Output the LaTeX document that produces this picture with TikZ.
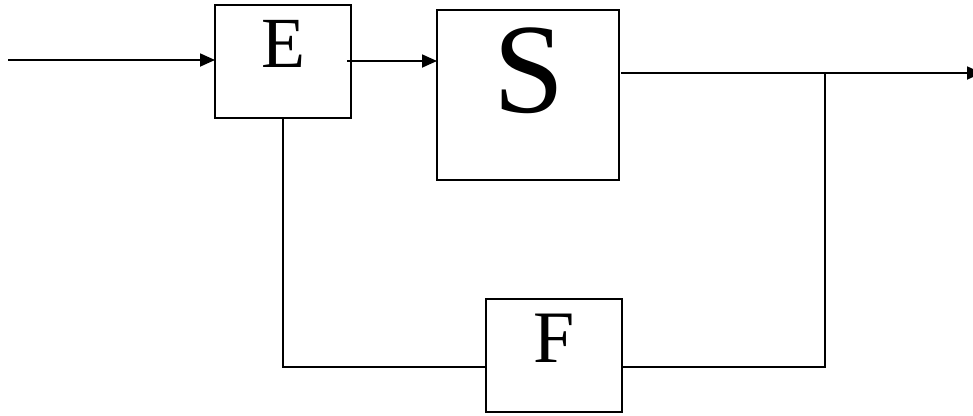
\documentclass[tikz,border=0pt]{standalone}
\usepackage{fontspec}
\setmainfont{Liberation Serif}
\usetikzlibrary{arrows.meta}
\begin{document}
\begin{tikzpicture}[x=1pt,y=-1pt,
  block/.style={draw,line width=1.8pt,inner sep=0pt,outer sep=0pt},
  glyph/.style={inner sep=0pt,outer sep=0pt},
  wire/.style={line width=1.8pt},
  flow/.style={wire,-{Triangle[length=15pt,width=13pt]}}]
  \useasboundingbox (0,0) rectangle (973,415);
  % blocks
  \node[block,minimum width=136pt,minimum height=113pt] (E) at (283,61.5) {};
  \node[block,minimum width=182pt,minimum height=170pt] (S) at (528,95) {};
  \node[block,minimum width=136pt,minimum height=113pt] (F) at (554,355.5) {};
  % block letters
  \node[glyph,font=\fontsize{72}{72}\selectfont] (Et) at (283,43.5) {E};
  \node[glyph,font=\fontsize{128}{128}\selectfont] (St) at (529,71) {S};
  \node[glyph,font=\fontsize{74}{74}\selectfont] (Ft) at (554,338) {F};
  % connector end points
  \coordinate (in) at (8,60);
  \coordinate (eout) at (347,61);
  \coordinate (out) at (982,73);
  \coordinate (sout) at (621,73);
  \coordinate (tap) at (825,73);
  \coordinate (fr) at (825,367);
  \coordinate (fl) at (283,367);
  % signal path
  \draw[flow] (in) -- (E.west |- in);
  \draw[flow] (eout) -- (S.west |- eout);
  \draw[flow] (sout) -- (out);
  % feedback loop
  \draw[wire] (tap) -- (fr) -- (F.east |- fr);
  \draw[wire] (F.west |- fl) -- (fl) -- (E.south -| fl);
\end{tikzpicture}
\end{document}
